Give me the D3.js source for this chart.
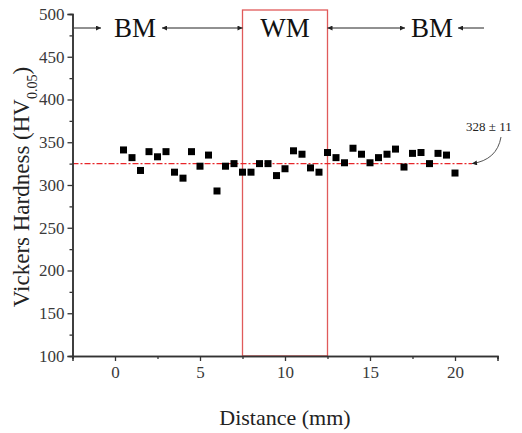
<!DOCTYPE html>
<html>
<head>
<meta charset="utf-8">
<script src="https://cdn.jsdelivr.net/npm/d3@7"></script>
<style>
  body { margin: 0; background: #fff; }
  svg text { font-family: "Liberation Serif", "DejaVu Serif", serif; }
</style>
</head>
<body>
<div id="chart"></div>
<script>
// distance (mm) and hardness values
const distance = [0.5, 1, 1.5, 2, 2.5, 3, 3.5, 4, 4.5, 5, 5.5, 6, 6.5, 7, 7.5, 8, 8.5, 9, 9.5, 10,
  10.5, 11, 11.5, 12, 12.5, 13, 13.5, 14, 14.5, 15, 15.5, 16, 16.5, 17, 17.5, 18, 18.5, 19, 19.5, 20];
const hardness = [341, 332, 317, 339, 333, 339, 315, 308, 339, 322, 335, 293, 322, 325, 315, 315, 325, 325, 311, 319,
  340, 336, 320, 315, 338, 332, 326, 343, 336, 326, 332, 336, 342, 321, 337, 338, 325, 337, 335, 314];
const meanValue = 325;
const meanLabel = "328 ± 11";
const weldZone = [7.5, 12.5];
const xTicks = [0, 5, 10, 15, 20];
const yTicks = [100, 150, 200, 250, 300, 350, 400, 450, 500];

const width = 522;
const height = 433;

const x = d3.scaleLinear().domain([-2.5, 22.5]).range([72.5, 497.5]);
const y = d3.scaleLinear().domain([100, 500]).range([356, 14]);

const svg = d3.select("#chart")
  .append("svg")
    .attr("width", width)
    .attr("height", height);

svg.append("defs").append("marker")
    .attr("id", "head")
    .attr("viewBox", "0 0 10 10")
    .attr("refX", 10).attr("refY", 5)
    .attr("markerWidth", 7).attr("markerHeight", 5)
    .attr("markerUnits", "userSpaceOnUse")
    .attr("orient", "auto-start-reverse")
  .append("path")
    .attr("d", "M0,0 L10,5 L0,10 Z")
    .attr("fill", "#222");

// weld metal box
svg.append("rect")
    .attr("x", x(weldZone[0]))
    .attr("y", 10)
    .attr("width", x(weldZone[1]) - x(weldZone[0]))
    .attr("height", y(100) - 10)
    .attr("fill", "none")
    .attr("stroke", "#e05a5a")
    .attr("stroke-width", 1.3);

// mean line
svg.append("line")
    .attr("x1", x(-2.5)).attr("x2", x(21))
    .attr("y1", y(meanValue)).attr("y2", y(meanValue))
    .attr("stroke", "#e8262a")
    .attr("stroke-width", 1.1)
    .attr("stroke-dasharray", "6,2,2,2");

// points
svg.selectAll(".pt")
  .data(distance.map((d, i) => ({ d, h: hardness[i] })))
  .join("rect")
    .attr("class", "pt")
    .attr("x", (p) => x(p.d) - 3.5)
    .attr("y", (p) => y(p.h) - 3.5)
    .attr("width", 7)
    .attr("height", 7)
    .attr("fill", "#000");

// axes
const axisColor = "#333";
const xMajor = svg.append("g")
    .attr("transform", `translate(0, ${y(100)})`)
    .call(d3.axisBottom(x).tickValues(xTicks).tickSize(5).tickPadding(5).tickFormat(d3.format("d")));
const xMinor = svg.append("g")
    .attr("transform", `translate(0, ${y(100)})`)
    .call(d3.axisBottom(x).tickValues(d3.range(-2.5, 23, 5)).tickSize(3).tickFormat(""));
const yMajor = svg.append("g")
    .attr("transform", `translate(${x(-2.5)}, 0)`)
    .call(d3.axisLeft(y).tickValues(yTicks).tickSize(5).tickPadding(3).tickFormat(d3.format("d")));
const yMinor = svg.append("g")
    .attr("transform", `translate(${x(-2.5)}, 0)`)
    .call(d3.axisLeft(y).tickValues(d3.range(125, 500, 50)).tickSize(3).tickFormat(""));

[xMajor, xMinor, yMajor, yMinor].forEach((g) => {
  g.attr("font-family", "Liberation Serif").attr("font-size", 17);
  g.select(".domain").attr("stroke", axisColor).attr("stroke-width", 1.5);
  g.selectAll(".tick line").attr("stroke", axisColor).attr("stroke-width", 1.3);
  g.selectAll(".tick text").attr("fill", "#3a3a3a");
});

// axis titles
svg.append("text")
    .attr("x", x(10)).attr("y", 425)
    .attr("text-anchor", "middle")
    .attr("font-size", 22)
    .attr("fill", "#222")
    .text("Distance (mm)");

const yTitle = svg.append("text")
    .attr("transform", `translate(29, ${y(300) + 2}) rotate(-90)`)
    .attr("text-anchor", "middle")
    .attr("font-size", 23)
    .attr("fill", "#222");
yTitle.append("tspan").text("Vickers Hardness (HV");
yTitle.append("tspan").attr("baseline-shift", "sub").attr("font-size", 14).text("0.05");
yTitle.append("tspan").text(")");

// zone labels and arrows
const zoneY = 28;
const labels = [
  { t: "BM", cx: 135 },
  { t: "WM", cx: x(10) },
  { t: "BM", cx: 432 }
];
svg.selectAll(".zone")
  .data(labels)
  .join("text")
    .attr("class", "zone")
    .attr("x", (d) => d.cx)
    .attr("y", zoneY + 9)
    .attr("text-anchor", "middle")
    .attr("font-size", 27)
    .attr("fill", "#111")
    .text((d) => d.t);

const arrows = [
  { x1: 74, x2: 101, both: false },
  { x1: 162, x2: x(weldZone[0]), both: true },
  { x1: x(weldZone[1]), x2: 405, both: true },
  { x1: 484, x2: 458, both: false }
];
svg.selectAll(".arr")
  .data(arrows)
  .join("line")
    .attr("class", "arr")
    .attr("x1", (d) => d.x1).attr("x2", (d) => d.x2)
    .attr("y1", zoneY).attr("y2", zoneY)
    .attr("stroke", "#222")
    .attr("stroke-width", 1)
    .attr("marker-end", "url(#head)")
    .attr("marker-start", (d) => d.both ? "url(#head)" : null);

// mean annotation
svg.append("text")
    .attr("x", 466).attr("y", 131)
    .attr("font-size", 13)
    .attr("fill", "#222")
    .text(meanLabel);

svg.append("path")
    .attr("d", `M501,137 Q497,160 ${x(21)},${y(meanValue)}`)
    .attr("fill", "none")
    .attr("stroke", "#555")
    .attr("stroke-width", 1)
    .attr("marker-end", "url(#head)");
</script>
</body>
</html>
